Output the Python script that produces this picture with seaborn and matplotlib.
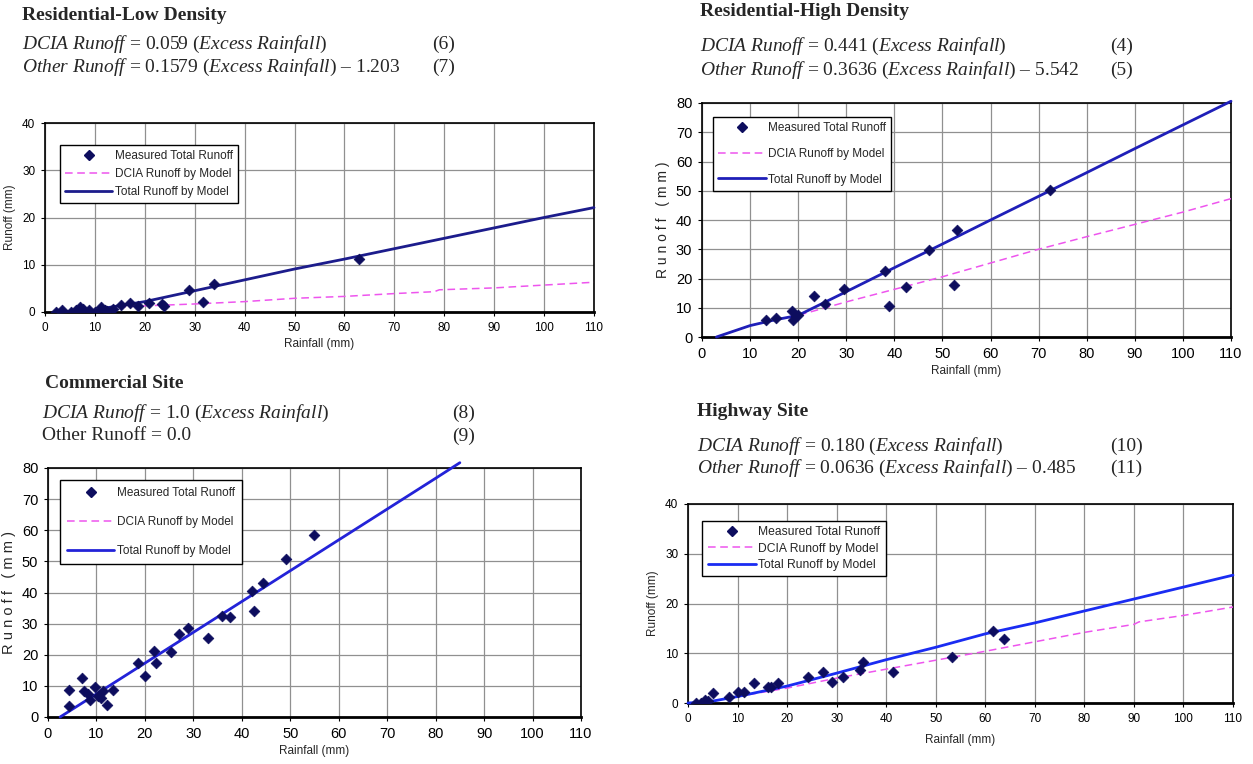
import matplotlib
matplotlib.use("Agg")
import matplotlib.pyplot as plt
import seaborn as sns
import pandas as pd
from matplotlib.lines import Line2D
from matplotlib import font_manager

# ---------------- data ----------------
# Residential-Low Density
p1_rain = [2.2, 3.4, 5.2, 6.3, 7.1, 7.7, 8.8, 10.0, 11.2, 12.0, 12.5, 13.7, 15.2, 17.1, 18.7, 20.8, 23.5, 23.8, 28.9, 31.7, 33.9, 62.9]
p1_runoff = [0.0, 0.5, 0.0, 0.5, 1.0, 0.7, 0.35, 0.1, 1.0, 0.5, 0.15, 0.6, 1.4, 2.0, 1.2, 1.9, 1.7, 1.2, 4.7, 2.2, 6.0, 11.2]
p1_total_x = [2.5, 10, 13, 20, 30, 40, 50, 60, 70, 80, 90, 100, 110]
p1_total_y = [0.0, 0.3, 1.0, 2.2, 4.5, 6.8, 9.1, 11.2, 13.4, 15.6, 17.8, 20.0, 22.1]
p1_dcia_x = [2.5, 10, 13, 20, 30, 40, 50, 60, 70, 78, 79, 90, 100, 110]
p1_dcia_y = [0.0, 0.3, 1.0, 1.3, 1.7, 2.2, 2.9, 3.3, 3.9, 4.3, 4.7, 5.1, 5.7, 6.3]

# Residential-High Density
p2_rain = [13.4, 15.4, 18.7, 19.0, 19.5, 20.0, 23.3, 25.6, 29.6, 38.0, 38.8, 42.5, 47.3, 52.3, 53.0, 72.3]
p2_runoff = [5.9, 6.6, 8.8, 5.9, 7.1, 7.5, 13.9, 11.2, 16.4, 22.7, 10.7, 17.0, 29.9, 17.9, 36.5, 50.4]
p2_total_x = [3, 10, 15, 20, 30, 40, 50, 60, 70, 80, 90, 100, 110]
p2_total_y = [0.0, 3.9, 5.8, 7.4, 15.5, 23.7, 31.8, 40.0, 48.1, 56.2, 64.4, 72.5, 80.6]
p2_dcia_x = [3, 10, 15, 20, 30, 40, 50, 60, 70, 80, 90, 100, 110]
p2_dcia_y = [0.0, 3.9, 5.8, 7.4, 12.0, 16.3, 20.6, 25.3, 30.0, 34.3, 38.5, 42.7, 47.3]

# Commercial Site
p3_rain = [4.4, 4.4, 7.1, 7.4, 8.2, 8.7, 9.7, 10.3, 10.9, 11.4, 12.2, 13.5, 18.6, 20.0, 21.8, 22.2, 25.4, 27.1, 28.9, 33.0, 35.9, 37.5, 42.0, 42.5, 44.3, 49.1, 54.9]
p3_runoff = [8.6, 3.4, 12.4, 8.4, 7.5, 5.6, 9.5, 6.7, 6.2, 8.4, 3.8, 8.6, 17.5, 13.2, 21.1, 17.5, 20.8, 26.6, 28.5, 25.5, 32.4, 32.2, 40.4, 34.0, 43.2, 50.7, 58.5]
p3_total_x = [2.5, 10, 20, 30, 40, 50, 60, 70, 80, 85]
p3_total_y = [0.0, 7.4, 17.3, 27.2, 37.1, 47.0, 56.9, 66.8, 76.7, 81.7]
p3_dcia_x = p3_total_x
p3_dcia_y = p3_total_y

# Highway Site
p4_rain = [1.6, 2.7, 3.4, 4.1, 5.0, 8.2, 10.1, 11.4, 13.4, 16.2, 16.7, 18.2, 24.2, 27.2, 29.1, 31.3, 34.7, 35.3, 41.3, 53.3, 61.6, 63.7]
p4_runoff = [0.1, 0.1, 0.7, 0.5, 2.0, 1.3, 2.2, 2.2, 4.1, 3.3, 3.3, 4.0, 5.2, 6.2, 4.3, 5.2, 6.7, 8.3, 6.2, 9.3, 14.4, 12.8]
p4_total_x = [0, 4, 10, 20, 30, 40, 50, 60, 70, 80, 90, 100, 110]
p4_total_y = [0.0, 0.2, 1.3, 3.4, 6.0, 8.7, 11.2, 13.9, 16.1, 18.5, 20.9, 23.3, 25.7]
p4_dcia_x = [0, 4, 10, 20, 30, 40, 50, 60, 70, 80, 90, 91, 100, 110]
p4_dcia_y = [0.0, 0.2, 1.3, 3.0, 5.0, 6.8, 8.6, 10.4, 12.3, 14.2, 15.8, 16.3, 17.6, 19.3]

legend_labels = ["Measured Total Runoff", "DCIA Runoff by Model", "Total Runoff by Model"]
x_ticks = list(range(0, 111, 10))

titles = ["Residential-Low Density", "Residential-High Density", "Commercial Site", "Highway Site"]
eq_lines = [
    [r"$\mathit{DCIA\ Runoff}$ = 0.059 ($\mathit{Excess\ Rainfall}$)",
     r"$\mathit{Other\ Runoff}$ = 0.1579 ($\mathit{Excess\ Rainfall}$) – 1.203"],
    [r"$\mathit{DCIA\ Runoff}$ = 0.441 ($\mathit{Excess\ Rainfall}$)",
     r"$\mathit{Other\ Runoff}$ = 0.3636 ($\mathit{Excess\ Rainfall}$) – 5.542"],
    [r"$\mathit{DCIA\ Runoff}$ = 1.0 ($\mathit{Excess\ Rainfall}$)",
     "Other Runoff = 0.0"],
    [r"$\mathit{DCIA\ Runoff}$ = 0.180 ($\mathit{Excess\ Rainfall}$)",
     r"$\mathit{Other\ Runoff}$ = 0.0636 ($\mathit{Excess\ Rainfall}$) – 0.485"],
]
eq_numbers = [["(6)", "(7)"], ["(4)", "(5)"], ["(8)", "(9)"], ["(10)", "(11)"]]

# ---------------- style ----------------
sns.set_theme(style="white")
plt.rcParams["font.family"] = ["Liberation Sans", "DejaVu Sans"]
plt.rcParams["mathtext.fontset"] = "custom"
plt.rcParams["mathtext.rm"] = "Liberation Serif"
plt.rcParams["mathtext.it"] = "Liberation Serif:italic"

installed = {f.name for f in font_manager.fontManager.ttflist}
narrow = "Liberation Sans Narrow" if "Liberation Sans Narrow" in installed else "Liberation Sans"

W, H = 1253, 764
fig = plt.figure(figsize=(W / 100, H / 100), dpi=100)
fig.patch.set_facecolor("white")


def ax_rect(left, top, right, bottom):
    return [left / W, 1 - bottom / H, (right - left) / W, (bottom - top) / H]


def ftext(x, y, s, **kw):
    fig.text(x / W, 1 - y / H, s, va="center", ha="left", **kw)


panels = [
    dict(rect=ax_rect(45, 123, 594, 312), ymax=40, yticks=range(0, 41, 10),
         rain=p1_rain, runoff=p1_runoff, tx=p1_total_x, ty=p1_total_y, dx=p1_dcia_x, dy=p1_dcia_y,
         tcolor="#1c1c8c", ylabel="Runoff (mm)", ylfs=8.5, tickfs=8.5, tickfam="Liberation Sans",
         xlpad=3, leg=(0.027, 0.885), legfs=8.5, legspace=0.5, legpad=0.45),
    dict(rect=ax_rect(702, 103, 1231, 337), ymax=80, yticks=range(0, 81, 10),
         rain=p2_rain, runoff=p2_runoff, tx=p2_total_x, ty=p2_total_y, dx=p2_dcia_x, dy=p2_dcia_y,
         tcolor="#1f1fb8", ylabel="R u n o f f   ( m m )", ylfs=10, tickfs=10.5, tickfam=narrow,
         xlpad=3, leg=(0.021, 0.94), legfs=8.5, legspace=1.15, legpad=0.45),
    dict(rect=ax_rect(48, 468, 581, 717), ymax=80, yticks=range(0, 81, 10),
         rain=p3_rain, runoff=p3_runoff, tx=p3_total_x, ty=p3_total_y, dx=p3_dcia_x, dy=p3_dcia_y,
         tcolor="#2323d8", ylabel="R u n o f f   ( m m )", ylfs=10.5, tickfs=10.5, tickfam=narrow,
         xlpad=3, leg=(0.0225, 0.952), legfs=8.5, legspace=1.45, legpad=0.6),
    dict(rect=ax_rect(688, 504, 1233, 703), ymax=40, yticks=range(0, 41, 10),
         rain=p4_rain, runoff=p4_runoff, tx=p4_total_x, ty=p4_total_y, dx=p4_dcia_x, dy=p4_dcia_y,
         tcolor="#1a2cf2", ylabel="Runoff (mm)", ylfs=8.5, tickfs=8.5, tickfam="Liberation Sans",
         xlpad=7, leg=(0.026, 0.915), legfs=8.7, legspace=0.35, legpad=0.45),
]

marker_color = "#0d0d5e"
dcia_color = "#ee55ee"

for p in panels:
    ax = fig.add_axes(p["rect"])
    ax.set_facecolor("white")
    pts = pd.DataFrame({"Rainfall": p["rain"], "Runoff": p["runoff"]})
    dcia = pd.DataFrame({"Rainfall": p["dx"], "Runoff": p["dy"]})
    tot = pd.DataFrame({"Rainfall": p["tx"], "Runoff": p["ty"]})
    sns.lineplot(data=dcia, x="Rainfall", y="Runoff", ax=ax, color=dcia_color,
                 linewidth=1.1, sort=False, zorder=3, estimator=None)
    ax.lines[-1].set_dashes([5, 3])
    sns.lineplot(data=tot, x="Rainfall", y="Runoff", ax=ax, color=p["tcolor"],
                 linewidth=2.0, sort=False, zorder=4, estimator=None)
    ax.lines[-1].set_clip_on(False)
    sns.scatterplot(data=pts, x="Rainfall", y="Runoff", ax=ax, marker="D", s=30,
                    color=marker_color, edgecolor=marker_color, linewidth=0.5, zorder=5)
    ax.set_xlim(0, 110)
    ax.set_ylim(0, p["ymax"])
    ax.set_xticks(x_ticks)
    ax.set_yticks(list(p["yticks"]))
    ax.grid(True, color="#909090", linewidth=0.9)
    ax.set_axisbelow(True)
    for s in ax.spines.values():
        s.set_color("black")
        s.set_linewidth(1.2)
    ax.spines["bottom"].set_linewidth(2.0)
    ax.tick_params(axis="both", which="both", direction="out", length=3, width=0.8,
                   colors="black", labelsize=p["tickfs"], pad=4, bottom=True, left=True)
    for lab in ax.get_xticklabels() + ax.get_yticklabels():
        lab.set_family(p["tickfam"])
    ax.set_xlabel("Rainfall (mm)", fontsize=8.5, labelpad=p["xlpad"])
    ax.set_ylabel(p["ylabel"], fontsize=p["ylfs"], labelpad=4)
    handles = [
        Line2D([], [], linestyle="none", marker="D", markersize=5, color=marker_color),
        Line2D([], [], color=dcia_color, linewidth=1.1, dashes=[5, 3]),
        Line2D([], [], color=p["tcolor"], linewidth=2.0),
    ]
    leg = ax.legend(handles, legend_labels, loc="upper left", bbox_to_anchor=p["leg"],
                    fontsize=p["legfs"], frameon=True, fancybox=False, framealpha=1,
                    edgecolor="black", borderpad=p["legpad"], borderaxespad=0, handlelength=4.0,
                    labelspacing=p["legspace"], handletextpad=0.2)
    leg.get_frame().set_linewidth(1.0)
    leg.set_zorder(10)

# ---------------- titles and equations ----------------
serif = ["Liberation Serif", "DejaVu Serif"]
title_pos = [(22, 16), (700, 12), (45, 383), (697, 411)]
eq_pos = [((22, 44), (22, 67), 432), ((700, 46), (700, 70), 1110),
          ((42, 413), (42, 436), 452), ((697, 446), (697, 468), 1110)]

for i in range(4):
    tx, ty = title_pos[i]
    ftext(tx, ty, titles[i], fontsize=14, fontweight="bold", family=serif)
    (x1, y1), (x2, y2), xn = eq_pos[i]
    ftext(x1, y1, eq_lines[i][0], fontsize=14, family=serif)
    ftext(x2, y2, eq_lines[i][1], fontsize=14, family=serif)
    ftext(xn, y1, eq_numbers[i][0], fontsize=14, family=serif)
    ftext(xn, y2, eq_numbers[i][1], fontsize=14, family=serif)

fig.savefig("out.png", dpi=100, facecolor="white")
